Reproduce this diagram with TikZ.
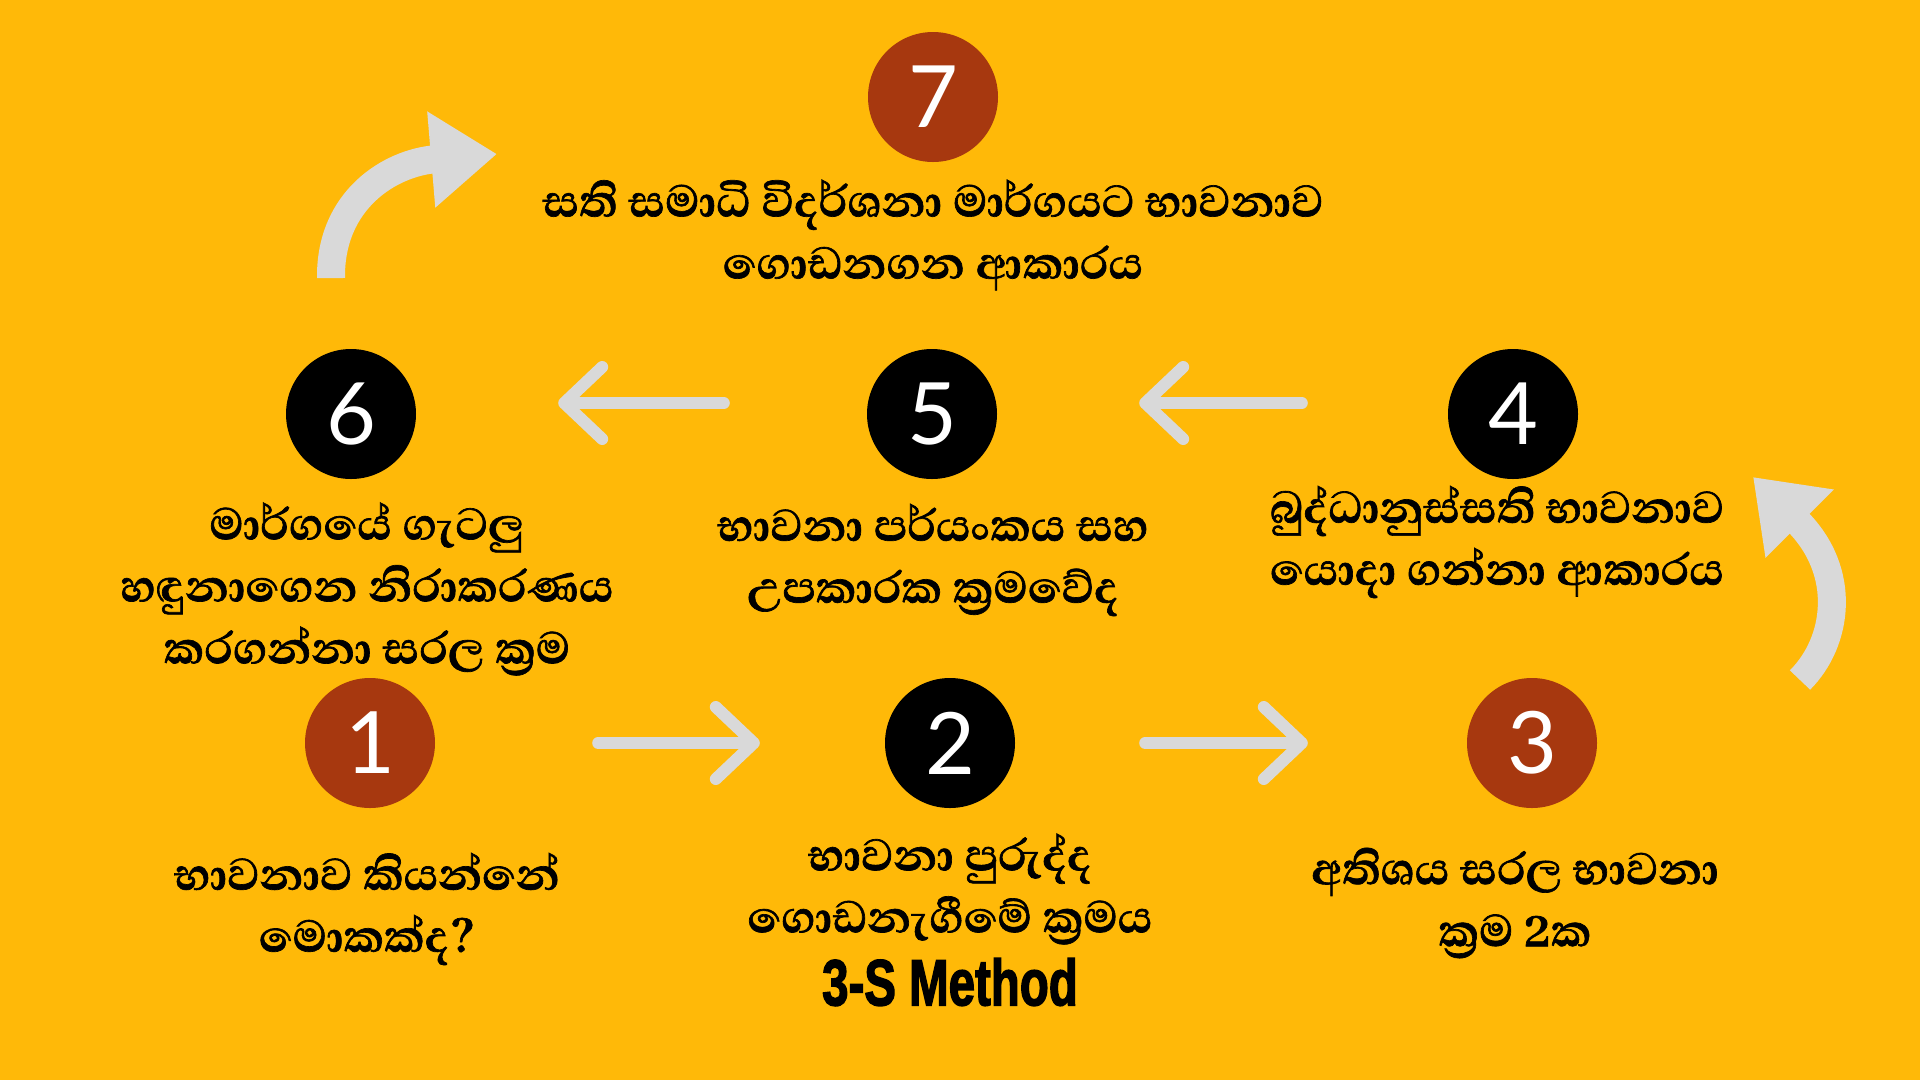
\documentclass[tikz,border=0pt]{standalone}
\usepackage{fontspec}
\usepackage{graphicx}
\usepackage{xcolor}
\usepackage{tikz}
\usetikzlibrary{arrows.meta}

\newfontfamily\sinhalafont[Script=Sinhala, BoldFeatures={FakeBold=1.2}]{Abhaya Libre}
\newfontfamily\numfont{Lato}
\newfontfamily\methodfont[BoldFeatures={FakeBold=2.5}]{Liberation Sans}

\definecolor{bgyellow}{RGB}{255,185,8}
\definecolor{steprust}{RGB}{167,56,15}
\definecolor{arrowgrey}{RGB}{217,217,217}

\begin{document}
\begin{tikzpicture}[
    x=1pt, y=-1pt,
    stepred/.style={circle, fill=steprust, minimum size=130pt, inner sep=0pt, text=white, font=\numfont\fontsize{86}{86}\selectfont},
    stepblack/.style={stepred, fill=black},
    steptext/.style={align=center, inner sep=0pt, font=\sinhalafont\bfseries\fontsize{57}{62}\selectfont},
    method/.style={inner sep=0pt, font=\methodfont\bfseries\fontsize{65}{65}\selectfont},
    flow/.style={draw=arrowgrey, line width=12pt, line cap=round, -{Straight Barb[length=38pt, width=72pt, round]}},
    turn/.style={draw=arrowgrey, line width=28pt, -{Triangle[length=66pt, width=92pt]}}
]

% Background
\fill[bgyellow] (0,0) rectangle (1920,1080);
\useasboundingbox (0,0) rectangle (1920,1080);

% Step Circles
\node[stepred]   (c1) at (370,743)  {1};
\node[stepblack] (c2) at (950,743)  {2};
\node[stepred]   (c3) at (1532,743) {3};
\node[stepblack] (c4) at (1513,414) {4};
\node[stepblack] (c5) at (932,414)  {5};
\node[stepblack] (c6) at (351,414)  {6};
\node[stepred]   (c7) at (933,97)   {7};

% Step Texts
\node[steptext] (t1) at (367,909) {භාවනාව කියන්නේ\\මොකක්ද?};
\node[steptext] (t2) at (950,889) {භාවනා පුරුද්ද\\ගොඩනැගීමේ ක්^^^^200dරමය};
\node[method]   (m2) at (950,982) {\scalebox{0.73}[1]{3-S Method}};
\node[steptext] (t3) at (1515,903) {අතිශය සරල භාවනා\\ක්^^^^200dරම 2ක};
\node[steptext] (t4) at (1497,542) {බුද්ධානුස්සති භාවනාව\\යොදා ගන්නා ආකාරය};
\node[steptext] (t5) at (933,560) {භාවනා පර්යංකය සහ\\උපකාරක ක්^^^^200dරමවේද};
\node[steptext] (t6) at (367,589) {මාර්ගයේ ගැටලු\\හඳුනාගෙන නිරාකරණය\\කරගන්නා සරල ක්^^^^200dරම};
\node[steptext] (t7) at (933,235) {සති සමාධි විදර්ශනා මාර්ගයට භාවනාව\\ගොඩනගන ආකාරය};

% Straight Arrows
\draw[flow, shorten <=163pt, shorten >=125pt] (c1) -- (c2);
\draw[flow, shorten <=130pt, shorten >=159pt] (c2) -- (c3);
\draw[flow, shorten <=146pt, shorten >=142pt] ([yshift=11pt]c4.west) -- ([yshift=11pt]c5.east);
\draw[flow, shorten <=143pt, shorten >=142pt] ([yshift=11pt]c5.west) -- ([yshift=11pt]c6.east);

% Curved Arrows
\coordinate (up3) at (1800,680);
\coordinate (tip4) at (1753,477);
\draw[turn] (up3) .. controls (1838,642) and (1848,572) .. (tip4);
\coordinate (up6) at (331,278);
\coordinate (tip7) at (497,154);
\draw[turn] (up6) .. controls (330,200) and (390,163) .. (tip7);

\end{tikzpicture}
\end{document}
